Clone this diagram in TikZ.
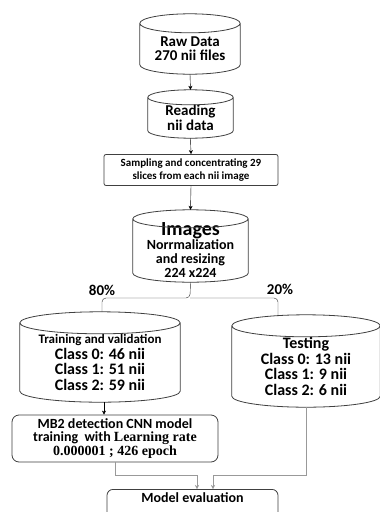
\documentclass[tikz,border=0pt]{standalone}
\usepackage{fontspec}
\setmainfont{Carlito}
\newfontfamily\serifbold{Liberation Serif}
\usepackage{tikz}
\usetikzlibrary{calc,arrows.meta}

\newcommand\fsz[2]{\fontsize{#1}{#2}\selectfont}
% cylinder outline round a store node: #1 node, #2 cap radius (pt)
\newcommand\drawstore[2]{%
  \draw[storeline] let \p1=(#1.north west), \p2=(#1.south east) in
    (#1.north) ellipse [x radius={(\x2-\x1)/2}, y radius=#2pt]
    (\x1,\y1) -- (\x1,\y2+#2pt)
      arc[start angle=180, end angle=360, x radius={(\x2-\x1)/2}, y radius=#2pt]
      -- (\x2,\y1);
}

\tikzset{
  store/.style={rectangle, align=center, font=\bfseries, inner sep=0pt},
  storeline/.style={draw=black!75, thick},
  stepbox/.style={rectangle, rounded corners=4pt, draw=black!75, thick,
                  align=center, font=\bfseries, inner sep=2pt},
  flow/.style={-{Stealth[length=4pt,width=4pt]}, black},
  flowgray/.style={-{Stealth[length=4pt,width=4pt]}, black!40}
}

\begin{document}
\begin{tikzpicture}[x=1pt, y=-1pt]
  \clip (0,0) rectangle (380,512);
  \fill[white] (0,0) rectangle (380,512);

  % data stores
  \node[store, minimum width=100pt, minimum height=50.5pt, font=\bfseries\fsz{15}{14}]
    (raw) at (190,48.75) {Raw Data\\270 nii files};
  \node[store, minimum width=85pt, minimum height=40.5pt, font=\bfseries\fsz{15}{15}]
    (read) at (190.5,117.75) {Reading\\nii data};
  \node[store, minimum width=115pt, minimum height=63pt, font=\bfseries\fsz{14}{14}]
    (img) at (190.5,250.5) {{\fsz{20}{20}Images}\\Norrmalization\\and resizing\\224 x224};
  \node[store, minimum width=160pt, minimum height=79pt, font=\bfseries\fsz{16}{15.5}]
    (trn) at (100,362.5) {{\fsz{13}{13}Training and validation}\\Class 0: 46 nii\\Class 1: 51 nii\\Class 2: 59 nii};
  \node[store, minimum width=148pt, minimum height=81pt, font=\bfseries\fsz{16}{15.5}]
    (tst) at (306,366.5) {Testing\\Class 0: 13 nii\\Class 1: 9 nii\\Class 2: 6 nii};
  \drawstore{raw}{9.5}
  \drawstore{read}{7.5}
  \drawstore{img}{9}
  \drawstore{trn}{11}
  \drawstore{tst}{11}

  % process boxes
  \node[stepbox, rounded corners=2pt, minimum width=174pt, minimum height=31pt,
        font=\bfseries\fsz{11}{12.5}]
    (samp) at (191,170) {Sampling and concentrating 29\\slices from each nii image};
  \node[stepbox, rounded corners=7pt, minimum width=206pt, minimum height=47pt,
        font=\bfseries\fsz{14}{13.5}]
    (mb2) at (115,438.5) {MB2 detection CNN model\\training\ \ with {\serifbold Learning rate}\\{\serifbold 0.000001 ; 426 epoch}};
  \node[stepbox, rounded corners=6pt, minimum width=171pt, anchor=north,
        text height=11pt, text depth=18pt, font=\bfseries\fsz{14}{14}]
    (eval) at (192.5,489) {Model evaluation};

  % split of the image set
  \coordinate (split) at (190,298);
  \coordinate (lleg) at (102,312);
  \coordinate (rleg) at (278,316);

  \draw[flow] (raw.south) -- ([yshift=7.5pt]read.north);
  \draw[flow] (read.south) -- (samp.north);
  \draw[flow] (samp.south) -- ([yshift=9pt]img.north);
  \draw[black!80, rounded corners=4pt] (lleg) |- (split) -- (img.south);
  \draw[black!80, rounded corners=4pt] (rleg) |- (split);
  \node[font=\bfseries\fsz{15}{15}, anchor=south] (p80) at (102,299) {80\%};
  \node[font=\bfseries\fsz{15}{15}, anchor=south] (p20) at (280,298) {20\%};

  \draw[flow] (trn.south -| 104,0) -- (mb2.north -| 104,0);
  \draw[flowgray] (mb2.south) |- (197,475) -- (eval.north -| 197,0);
  \draw[flowgray] (tst.south) |- (213,475) -- (eval.north -| 213,0);
\end{tikzpicture}
\end{document}
